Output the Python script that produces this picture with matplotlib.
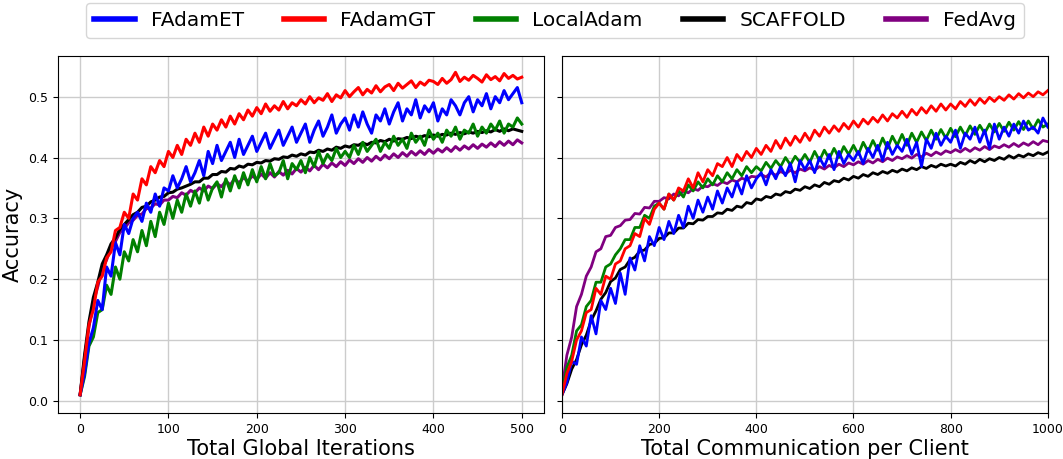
import matplotlib.pyplot as plt
import numpy as np

# x grids
iters = np.arange(0, 501, 5)
comms = np.arange(0, 1001, 10)

# ---- left panel: accuracy vs total global iterations ----
fadam_et_iter = [
    0.010, 0.045, 0.095, 0.120, 0.165, 0.150, 0.220, 0.205, 0.260, 0.240,
    0.290, 0.275, 0.300, 0.310, 0.295, 0.325, 0.310, 0.340, 0.320, 0.350,
    0.345, 0.370, 0.350, 0.365, 0.385, 0.360, 0.375, 0.395, 0.370, 0.410,
    0.390, 0.420, 0.395, 0.410, 0.425, 0.400, 0.430, 0.405, 0.420, 0.435,
    0.410, 0.425, 0.440, 0.415, 0.430, 0.445, 0.420, 0.435, 0.450, 0.425,
    0.440, 0.455, 0.425, 0.445, 0.460, 0.435, 0.450, 0.470, 0.440, 0.455,
    0.465, 0.445, 0.470, 0.450, 0.475, 0.455, 0.440, 0.470, 0.460, 0.480,
    0.455, 0.475, 0.490, 0.460, 0.480, 0.470, 0.495, 0.465, 0.485, 0.475,
    0.490, 0.460, 0.480, 0.470, 0.495, 0.485, 0.470, 0.490, 0.500, 0.475,
    0.495, 0.485, 0.505, 0.480, 0.500, 0.490, 0.510, 0.495, 0.505, 0.515,
    0.490]
fadam_gt_iter = [
    0.010, 0.065, 0.125, 0.150, 0.195, 0.205, 0.235, 0.245, 0.280, 0.285,
    0.310, 0.300, 0.340, 0.330, 0.365, 0.355, 0.385, 0.375, 0.395, 0.385,
    0.410, 0.400, 0.420, 0.405, 0.430, 0.420, 0.440, 0.425, 0.450, 0.435,
    0.455, 0.445, 0.462, 0.450, 0.468, 0.455, 0.472, 0.462, 0.478, 0.468,
    0.482, 0.472, 0.488, 0.476, 0.485, 0.478, 0.492, 0.480, 0.490, 0.485,
    0.495, 0.488, 0.500, 0.490, 0.498, 0.494, 0.505, 0.492, 0.503, 0.498,
    0.510, 0.500, 0.508, 0.515, 0.503, 0.512, 0.506, 0.518, 0.508, 0.516,
    0.520, 0.510, 0.522, 0.514, 0.520, 0.526, 0.515, 0.524, 0.519, 0.527,
    0.525, 0.520, 0.530, 0.522, 0.528, 0.540, 0.525, 0.532, 0.527, 0.535,
    0.530, 0.524, 0.536, 0.528, 0.533, 0.526, 0.538, 0.530, 0.535, 0.529,
    0.532]
local_adam_iter = [
    0.010, 0.040, 0.090, 0.105, 0.145, 0.150, 0.190, 0.175, 0.220, 0.200,
    0.245, 0.230, 0.265, 0.245, 0.280, 0.255, 0.295, 0.270, 0.310, 0.290,
    0.325, 0.300, 0.330, 0.310, 0.340, 0.320, 0.345, 0.325, 0.355, 0.330,
    0.350, 0.360, 0.335, 0.365, 0.345, 0.370, 0.350, 0.375, 0.355, 0.380,
    0.360, 0.385, 0.365, 0.390, 0.370, 0.375, 0.395, 0.365, 0.390, 0.380,
    0.395, 0.375, 0.400, 0.385, 0.410, 0.390, 0.405, 0.395, 0.415, 0.400,
    0.410, 0.400, 0.420, 0.405, 0.425, 0.410, 0.420, 0.430, 0.410, 0.425,
    0.415, 0.435, 0.420, 0.430, 0.415, 0.440, 0.425, 0.435, 0.420, 0.445,
    0.430, 0.440, 0.425, 0.445, 0.435, 0.450, 0.430, 0.445, 0.440, 0.455,
    0.435, 0.450, 0.440, 0.455, 0.445, 0.460, 0.440, 0.455, 0.450, 0.465,
    0.455]
scaffold_iter = [
    0.010, 0.075, 0.130, 0.170, 0.195, 0.225, 0.240, 0.258, 0.268, 0.282,
    0.290, 0.298, 0.306, 0.310, 0.318, 0.320, 0.327, 0.330, 0.335, 0.336,
    0.342, 0.343, 0.348, 0.350, 0.353, 0.356, 0.360, 0.360, 0.366, 0.366,
    0.372, 0.372, 0.377, 0.376, 0.382, 0.381, 0.386, 0.384, 0.389, 0.388,
    0.392, 0.391, 0.395, 0.394, 0.398, 0.397, 0.401, 0.400, 0.404, 0.402,
    0.406, 0.404, 0.409, 0.408, 0.412, 0.410, 0.414, 0.412, 0.417, 0.415,
    0.419, 0.417, 0.421, 0.420, 0.424, 0.421, 0.425, 0.424, 0.428, 0.426,
    0.430, 0.427, 0.431, 0.430, 0.433, 0.431, 0.435, 0.433, 0.436, 0.434,
    0.437, 0.435, 0.438, 0.437, 0.440, 0.438, 0.441, 0.439, 0.442, 0.440,
    0.443, 0.441, 0.444, 0.442, 0.446, 0.443, 0.447, 0.444, 0.447, 0.445,
    0.443]
fedavg_iter = [
    0.010, 0.070, 0.122, 0.162, 0.188, 0.217, 0.232, 0.252, 0.262, 0.277,
    0.283, 0.293, 0.297, 0.305, 0.307, 0.316, 0.317, 0.324, 0.322, 0.330,
    0.330, 0.336, 0.334, 0.342, 0.338, 0.346, 0.342, 0.350, 0.345, 0.353,
    0.349, 0.357, 0.352, 0.361, 0.355, 0.365, 0.358, 0.367, 0.361, 0.370,
    0.364, 0.373, 0.366, 0.375, 0.368, 0.377, 0.371, 0.379, 0.373, 0.382,
    0.376, 0.384, 0.378, 0.387, 0.380, 0.389, 0.383, 0.391, 0.385, 0.393,
    0.387, 0.396, 0.390, 0.398, 0.392, 0.400, 0.394, 0.402, 0.396, 0.404,
    0.398, 0.406, 0.400, 0.408, 0.402, 0.410, 0.404, 0.411, 0.405, 0.413,
    0.407, 0.414, 0.409, 0.416, 0.410, 0.418, 0.412, 0.419, 0.414, 0.421,
    0.415, 0.422, 0.417, 0.424, 0.418, 0.426, 0.420, 0.427, 0.421, 0.429,
    0.424]

# ---- right panel: accuracy vs total communication per client ----
fadam_et_comm = [
    0.010, 0.030, 0.065, 0.060, 0.105, 0.090, 0.140, 0.110, 0.165, 0.150,
    0.185, 0.160, 0.210, 0.175, 0.235, 0.215, 0.255, 0.230, 0.270, 0.255,
    0.285, 0.265, 0.295, 0.275, 0.305, 0.285, 0.320, 0.300, 0.330, 0.310,
    0.335, 0.315, 0.345, 0.325, 0.350, 0.335, 0.360, 0.340, 0.370, 0.350,
    0.365, 0.375, 0.355, 0.380, 0.365, 0.385, 0.370, 0.390, 0.360, 0.395,
    0.380, 0.395, 0.375, 0.400, 0.385, 0.405, 0.380, 0.410, 0.390, 0.405,
    0.395, 0.410, 0.390, 0.415, 0.400, 0.420, 0.395, 0.425, 0.405, 0.420,
    0.410, 0.430, 0.405, 0.425, 0.385, 0.430, 0.415, 0.440, 0.420, 0.435,
    0.425, 0.445, 0.415, 0.440, 0.430, 0.450, 0.425, 0.445, 0.415, 0.455,
    0.430, 0.450, 0.435, 0.455, 0.440, 0.460, 0.445, 0.450, 0.440, 0.465,
    0.450]
fadam_gt_comm = [
    0.010, 0.045, 0.065, 0.100, 0.115, 0.145, 0.150, 0.185, 0.175, 0.205,
    0.200, 0.225, 0.230, 0.250, 0.255, 0.275, 0.270, 0.300, 0.290, 0.315,
    0.325, 0.315, 0.340, 0.330, 0.350, 0.345, 0.365, 0.350, 0.375, 0.360,
    0.380, 0.370, 0.390, 0.385, 0.400, 0.385, 0.405, 0.395, 0.410, 0.400,
    0.415, 0.405, 0.420, 0.410, 0.428, 0.415, 0.432, 0.420, 0.435, 0.425,
    0.440, 0.428, 0.445, 0.435, 0.450, 0.440, 0.452, 0.443, 0.456, 0.447,
    0.460, 0.450, 0.463, 0.455, 0.466, 0.458, 0.470, 0.460, 0.472, 0.465,
    0.476, 0.466, 0.479, 0.470, 0.482, 0.473, 0.485, 0.476, 0.488, 0.478,
    0.488, 0.480, 0.492, 0.484, 0.495, 0.486, 0.497, 0.489, 0.499, 0.492,
    0.500, 0.494, 0.503, 0.496, 0.505, 0.498, 0.506, 0.500, 0.508, 0.503,
    0.510]
local_adam_comm = [
    0.015, 0.055, 0.075, 0.115, 0.125, 0.155, 0.165, 0.195, 0.195, 0.220,
    0.225, 0.240, 0.250, 0.265, 0.265, 0.285, 0.285, 0.305, 0.300, 0.320,
    0.325, 0.315, 0.340, 0.330, 0.345, 0.335, 0.355, 0.345, 0.360, 0.350,
    0.365, 0.355, 0.370, 0.360, 0.375, 0.365, 0.380, 0.370, 0.385, 0.375,
    0.385, 0.378, 0.392, 0.382, 0.395, 0.385, 0.400, 0.388, 0.402, 0.392,
    0.405, 0.392, 0.410, 0.395, 0.412, 0.398, 0.415, 0.400, 0.418, 0.405,
    0.420, 0.405, 0.425, 0.410, 0.428, 0.412, 0.432, 0.415, 0.435, 0.420,
    0.438, 0.420, 0.440, 0.425, 0.442, 0.428, 0.445, 0.430, 0.446, 0.432,
    0.448, 0.434, 0.450, 0.436, 0.452, 0.438, 0.453, 0.440, 0.455, 0.442,
    0.456, 0.443, 0.458, 0.445, 0.459, 0.446, 0.460, 0.447, 0.462, 0.450,
    0.455]
scaffold_comm = [
    0.010, 0.028, 0.052, 0.068, 0.092, 0.108, 0.132, 0.148, 0.167, 0.178,
    0.196, 0.202, 0.216, 0.220, 0.232, 0.236, 0.246, 0.248, 0.257, 0.259,
    0.267, 0.268, 0.276, 0.276, 0.284, 0.284, 0.292, 0.291, 0.298, 0.297,
    0.303, 0.303, 0.309, 0.308, 0.315, 0.313, 0.320, 0.318, 0.326, 0.324,
    0.332, 0.330, 0.336, 0.334, 0.340, 0.338, 0.344, 0.342, 0.348, 0.346,
    0.352, 0.349, 0.355, 0.352, 0.359, 0.356, 0.362, 0.360, 0.366, 0.363,
    0.369, 0.366, 0.372, 0.369, 0.375, 0.372, 0.377, 0.374, 0.379, 0.376,
    0.381, 0.378, 0.383, 0.380, 0.385, 0.382, 0.387, 0.384, 0.389, 0.386,
    0.389, 0.386, 0.392, 0.389, 0.395, 0.391, 0.397, 0.393, 0.398, 0.395,
    0.400, 0.397, 0.403, 0.399, 0.404, 0.401, 0.406, 0.403, 0.408, 0.405,
    0.409]
fedavg_comm = [
    0.020, 0.075, 0.105, 0.155, 0.175, 0.205, 0.220, 0.245, 0.250, 0.270,
    0.272, 0.285, 0.288, 0.297, 0.298, 0.308, 0.307, 0.318, 0.317, 0.328,
    0.328, 0.334, 0.332, 0.340, 0.337, 0.345, 0.342, 0.349, 0.346, 0.353,
    0.352, 0.357, 0.354, 0.360, 0.357, 0.363, 0.360, 0.366, 0.363, 0.369,
    0.368, 0.372, 0.368, 0.375, 0.371, 0.377, 0.373, 0.379, 0.375, 0.381,
    0.378, 0.383, 0.379, 0.385, 0.381, 0.387, 0.383, 0.389, 0.385, 0.391,
    0.388, 0.393, 0.389, 0.395, 0.391, 0.397, 0.393, 0.399, 0.395, 0.401,
    0.398, 0.403, 0.399, 0.405, 0.401, 0.407, 0.403, 0.409, 0.405, 0.411,
    0.408, 0.413, 0.409, 0.415, 0.410, 0.416, 0.412, 0.418, 0.413, 0.419,
    0.416, 0.421, 0.417, 0.423, 0.418, 0.424, 0.420, 0.426, 0.421, 0.428,
    0.426]

labels = ['FAdamET', 'FAdamGT', 'LocalAdam', 'SCAFFOLD', 'FedAvg']
colors = ['blue', 'red', 'green', 'black', 'purple']
left_data = [fadam_et_iter, fadam_gt_iter, local_adam_iter, scaffold_iter, fedavg_iter]
right_data = [fadam_et_comm, fadam_gt_comm, local_adam_comm, scaffold_comm, fedavg_comm]

# drawing order (bottom -> top): FedAvg, SCAFFOLD, LocalAdam, FAdamET, FAdamGT
draw_order = [4, 3, 2, 0, 1]

fig = plt.figure(figsize=(10.63, 4.59), dpi=100)
ax1 = fig.add_axes([0.0546, 0.1002, 0.457, 0.778])
ax2 = fig.add_axes([0.5287, 0.1002, 0.457, 0.778], sharey=ax1)

handles = {}
for i in draw_order:
    h, = ax1.plot(iters, left_data[i], color=colors[i], linewidth=2.2, label=labels[i])
    ax2.plot(comms, right_data[i], color=colors[i], linewidth=2.0)
    handles[i] = h

ax1.set_xlim(-25, 525)
ax2.set_xlim(0, 1000)
ax1.set_ylim(-0.02, 0.567)
ax1.set_yticks([0.0, 0.1, 0.2, 0.3, 0.4, 0.5])
ax1.set_xticks([0, 100, 200, 300, 400, 500])
ax2.set_xticks([0, 200, 400, 600, 800, 1000])
plt.setp(ax2.get_yticklabels(), visible=False)

for ax in (ax1, ax2):
    ax.grid(True, color='#cccccc', linewidth=1.0)
    ax.set_axisbelow(True)
    ax.tick_params(labelsize=9)

ax1.set_ylabel('Accuracy', fontsize=15)
ax1.set_xlabel('Total Global Iterations', fontsize=15, labelpad=2)
ax2.set_xlabel('Total Communication per Client', fontsize=15, labelpad=2)

leg = fig.legend([handles[i] for i in range(5)], labels, loc='center',
                 bbox_to_anchor=(0.522, 0.956), ncol=5, fontsize=14.5,
                 handlelength=2.0, columnspacing=2.0, frameon=True)
for line in leg.get_lines():
    line.set_linewidth(4)

fig.savefig('out.png', dpi=100)
